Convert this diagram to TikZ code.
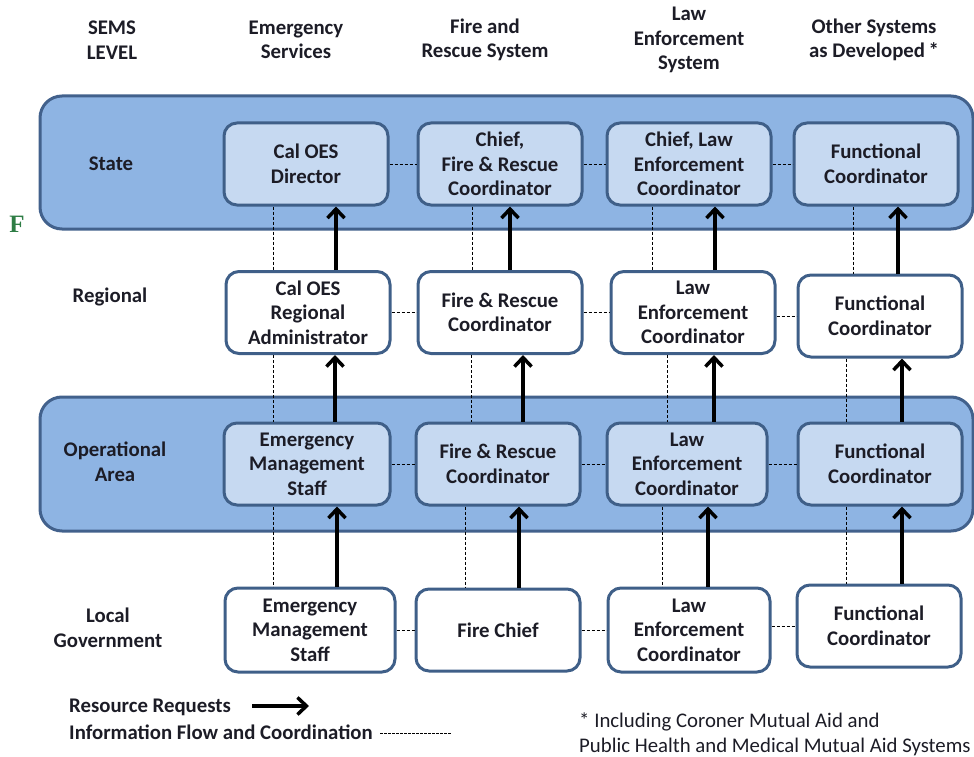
\documentclass[tikz,border=0pt]{standalone}
\usepackage{fontspec}
\setmainfont{Carlito}
\newfontfamily\serifF{Liberation Serif}
\usetikzlibrary{arrows.meta}
\definecolor{bandfill}{HTML}{8EB4E3}
\definecolor{banddraw}{HTML}{42618C}
\definecolor{boxfill}{HTML}{C6D9F1}
\definecolor{boxdraw}{HTML}{3F5F88}
\definecolor{txt}{HTML}{1C1C26}
\definecolor{fgreen}{HTML}{2E7D45}
\begin{document}
\begin{tikzpicture}[x=1pt,y=-1pt,
  every node/.style={text=txt,font=\fontsize{20.8}{24.5}\selectfont\bfseries,align=center,inner sep=0pt},
  band/.style={draw=banddraw,fill=bandfill,line width=3pt,rounded corners=22pt},
  boxw/.style={draw=boxdraw,fill=white,line width=3pt,rounded corners=13pt,minimum width=164pt,minimum height=82pt},
  boxb/.style={boxw,fill=boxfill},
  req/.style={draw=black,line width=4pt,-{Straight Barb[length=9pt,width=17pt,line width=3.5pt]}},
  info/.style={draw=black,line width=0.9pt,dash pattern=on 3pt off 2pt},
  foot/.style={font=\fontsize{20.8}{24.5}\selectfont,anchor=west,align=left}]
\useasboundingbox (0,0) rectangle (974,757);
% headers
\node (h0) at (112,40) {SEMS\\LEVEL};
\node (h1) at (296,40) {Emergency\\Services};
\node (h2) at (485,40) {Fire and\\Rescue System};
\node (h3) at (689,40) {Law\\Enforcement\\System};
\node (h4) at (874,40) {Other Systems\\as Developed\,*};
% bands
\node[band,minimum width=933pt,minimum height=133pt] (bstate) at (506.5,162.5) {};
\node[band,minimum width=933pt,minimum height=134pt] (bop) at (506.5,464) {};
% level labels
\node (lstate) at (111,164) {State};
\node (lreg) at (110,297) {Regional};
\node (lop) at (115,462) {Operational\\Area};
\node (lloc) at (108,628) {Local\\Government};
\node[text=fgreen,font=\fontsize{25}{28}\selectfont\serifF\bfseries] (f) at (17,224) {F};
% state row
\node[boxb] (s1) at (306,164) {Cal OES\\Director};
\node[boxb] (s2) at (500,164) {Chief,\\Fire \& Rescue\\Coordinator};
\node[boxb] (s3) at (689,164) {Chief, Law\\Enforcement\\Coordinator};
\node[boxb] (s4) at (876,164) {Functional\\Coordinator};
% regional row
\node[boxw] (r1) at (308,312.5) {Cal OES\\Regional\\Administrator};
\node[boxw] (r2) at (500,312.5) {Fire \& Rescue\\Coordinator};
\node[boxw] (r3) at (693,312.5) {Law\\Enforcement\\Coordinator};
\node[boxw] (r4) at (880,316) {Functional\\Coordinator};
% operational row
\node[boxb,minimum width=166pt] (o1) at (307,464) {Emergency\\Management\\Staff};
\node[boxb] (o2) at (498,464) {Fire \& Rescue\\Coordinator};
\node[boxb,minimum width=160pt] (o3) at (687,464) {Law\\Enforcement\\Coordinator};
\node[boxb] (o4) at (880,464) {Functional\\Coordinator};
% local row
\node[boxw,minimum width=170pt,minimum height=84pt] (l1) at (310,630) {Emergency\\Management\\Staff};
\node[boxw] (l2) at (498,630) {Fire Chief};
\node[boxw,minimum width=162pt,minimum height=84pt] (l3) at (689,630) {Law\\Enforcement\\Coordinator};
\node[boxw] (l4) at (879,626) {Functional\\Coordinator};
% horizontal info lines
\draw[info] (s1.east) -- (s2.west);
\draw[info] (s2.east) -- (s3.west);
\draw[info] (s3.east) -- (s4.west);
\draw[info] (r1.east) -- (r2.west);
\draw[info] (r2.east) -- (r3.west);
\draw[info] (r3.east |- 0,316) -- (r4.west);
\draw[info] (o1.east) -- (o2.west);
\draw[info] (o2.east) -- (o3.west);
\draw[info] (o3.east) -- (o4.west);
\draw[info] (l1.east) -- (l2.west);
\draw[info] (l2.east) -- (l3.west);
\draw[info] (l3.east |- 0,626) -- (l4.west);
% vertical info lines
\draw[info] (273,0 |- s1.south) -- (273,0 |- r1.north);
\draw[info] (273,0 |- r1.south) -- (273,0 |- o1.north);
\draw[info] (273,0 |- o1.south) -- (273,0 |- l1.north);
\draw[info] (472,0 |- s2.south) -- (472,0 |- r2.north);
\draw[info] (471,0 |- r2.south) -- (471,0 |- o2.north);
\draw[info] (465,0 |- o2.south) -- (465,0 |- l2.north);
\draw[info] (652,0 |- s3.south) -- (652,0 |- r3.north);
\draw[info] (667,0 |- r3.south) -- (667,0 |- o3.north);
\draw[info] (662,0 |- o3.south) -- (662,0 |- l3.north);
\draw[info] (853,0 |- s4.south) -- (853,0 |- r4.north);
\draw[info] (846,0 |- r4.south) -- (846,0 |- o4.north);
\draw[info] (846,0 |- o4.south) -- (846,0 |- l4.north);
% resource request arrows
\draw[req] (336,0 |- r1.north) -- (336,0 |- s1.south);
\draw[req] (335,0 |- o1.north) -- (335,0 |- r1.south);
\draw[req] (337,0 |- l1.north) -- (337,0 |- o1.south);
\draw[req] (510,0 |- r2.north) -- (510,0 |- s2.south);
\draw[req] (523,0 |- o2.north) -- (523,0 |- r2.south);
\draw[req] (519,0 |- l2.north) -- (519,0 |- o2.south);
\draw[req] (715,0 |- r3.north) -- (715,0 |- s3.south);
\draw[req] (714,0 |- o3.north) -- (714,0 |- r3.south);
\draw[req] (708,0 |- l3.north) -- (708,0 |- o3.south);
\draw[req] (898,0 |- r4.north) -- (898,0 |- s4.south);
\draw[req] (902,0 |- o4.north) -- (902,0 |- r4.south);
\draw[req] (902,0 |- l4.north) -- (902,0 |- o4.south);
% legend
\node[anchor=west] (lg1) at (69,707) {Resource Requests};
\coordinate (lga) at (252,706);
\coordinate (lgb) at (309,706);
\draw[req] (lga) -- (lgb);
\node[anchor=west] (lg2) at (69,732) {Information Flow and Coordination};
\coordinate (lgc) at (380,733);
\coordinate (lgd) at (452,733);
\draw[info,line width=0.8pt,dash pattern=on 2.5pt off 1.5pt] (lgc) -- (lgd);
% footnote
\node[foot] (fn1) at (579,722) {* Including Coroner Mutual Aid and};
\node[foot] (fn2) at (579,747) {Public Health and Medical Mutual Aid Systems};
\end{tikzpicture}
\end{document}
